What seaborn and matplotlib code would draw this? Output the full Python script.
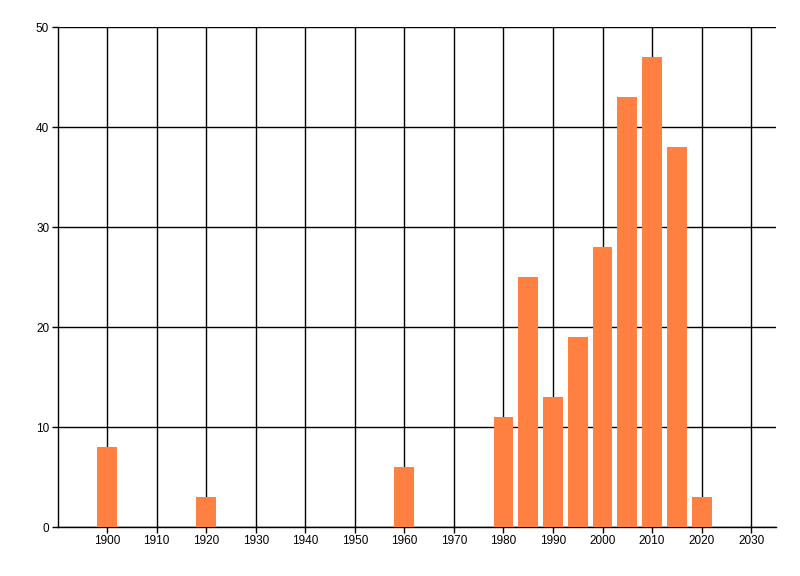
import numpy as np
import pandas as pd
import matplotlib
matplotlib.use('Agg')
import matplotlib.pyplot as plt
import seaborn as sns

# Data
years = [1900, 1920, 1960, 1980, 1985, 1990, 1995, 2000, 2005, 2010, 2015, 2020]
counts = [8, 3, 6, 11, 25, 13, 19, 28, 43, 47, 38, 3]
x_ticks = list(range(1900, 2031, 10))
y_ticks = [0, 10, 20, 30, 40, 50]

BAR_COLOR = '#ff8040'

sns.set_style('white')
plt.rcParams['font.family'] = ['Liberation Sans', 'DejaVu Sans']

df = pd.DataFrame({'year': years, 'count': counts})

fig = plt.figure(figsize=(8, 5.76), dpi=100)
ax = fig.add_axes([0.0719, 0.085, 0.898, 0.868])

sns.barplot(data=df, x='year', y='count', native_scale=True, color=BAR_COLOR,
            saturation=1, width=0.8, linewidth=0, edgecolor='none', ax=ax, zorder=3)

ax.set_xlim(1890, 2035)
ax.set_ylim(0, 50)
ax.set_xticks(x_ticks)
ax.set_xticklabels([str(t) for t in x_ticks])
ax.set_yticks(y_ticks)
ax.set_yticklabels([str(t) for t in y_ticks])
ax.set_xlabel('')
ax.set_ylabel('')

ax.grid(True, color='black', linewidth=1, zorder=0)
ax.set_axisbelow(True)
for side in ['top', 'right']:
    ax.spines[side].set_visible(False)
for side in ['left', 'bottom']:
    ax.spines[side].set_color('black')
    ax.spines[side].set_linewidth(1)

ax.tick_params(axis='both', direction='out', length=4, width=1, color='black',
               labelsize=8.5, labelcolor='black', pad=2, left=True, bottom=True)

fig.savefig('out.png', dpi=100)
